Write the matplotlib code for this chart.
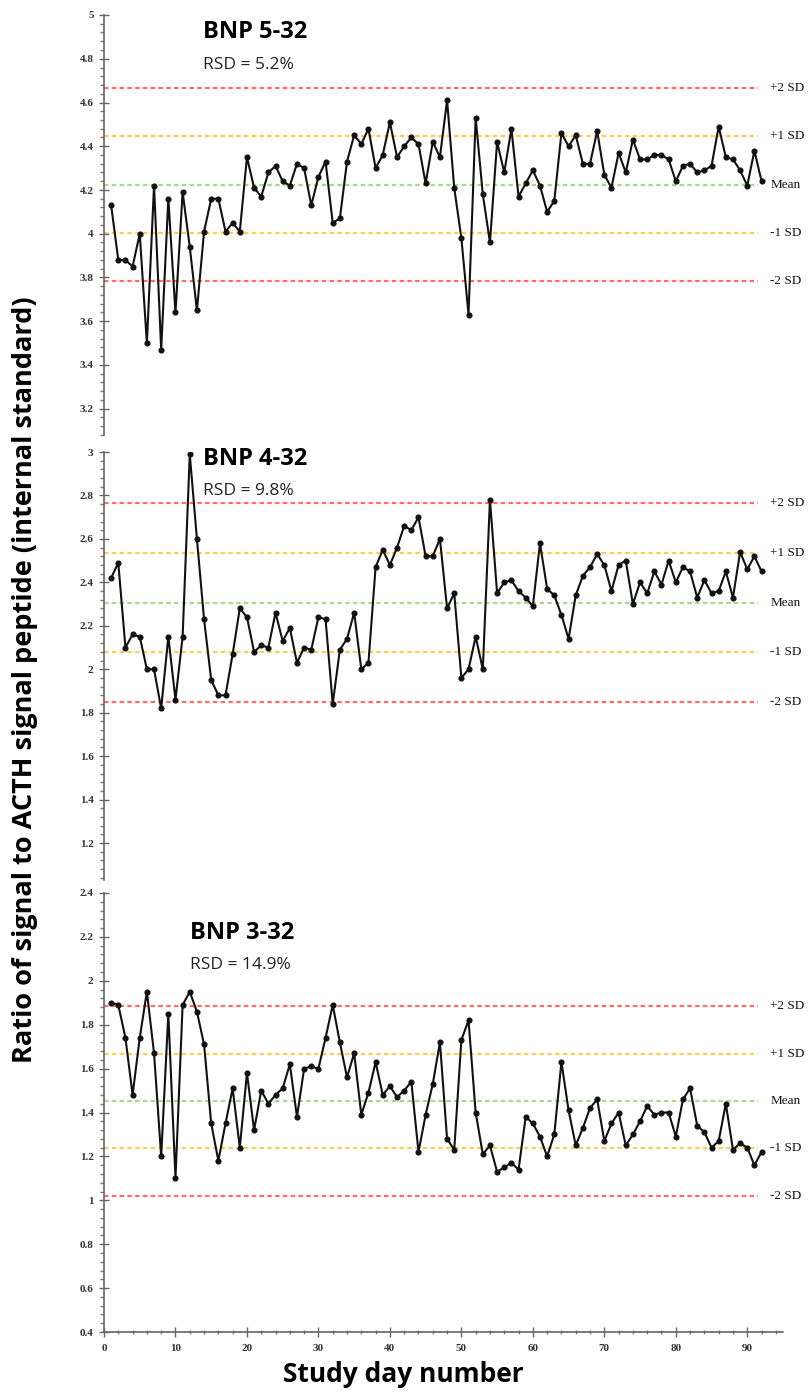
import matplotlib.pyplot as plt
from matplotlib.ticker import FixedLocator, MultipleLocator, FuncFormatter

# study days
days = list(range(1, 93))

# BNP 5-32 ratios
bnp5 = [4.13, 3.88, 3.88, 3.85, 4.00, 3.50, 4.22, 3.47, 4.16, 3.64,
        4.19, 3.94, 3.65, 4.01, 4.16, 4.16, 4.01, 4.05, 4.01, 4.35,
        4.21, 4.17, 4.28, 4.31, 4.24, 4.22, 4.32, 4.30, 4.13, 4.26,
        4.33, 4.05, 4.07, 4.33, 4.45, 4.41, 4.48, 4.30, 4.36, 4.51,
        4.35, 4.40, 4.44, 4.41, 4.23, 4.42, 4.35, 4.61, 4.21, 3.98,
        3.63, 4.53, 4.18, 3.96, 4.42, 4.28, 4.48, 4.17, 4.23, 4.29,
        4.22, 4.10, 4.15, 4.46, 4.40, 4.45, 4.32, 4.32, 4.47, 4.27,
        4.21, 4.37, 4.28, 4.43, 4.34, 4.34, 4.36, 4.36, 4.34, 4.24,
        4.31, 4.32, 4.28, 4.29, 4.31, 4.49, 4.35, 4.34, 4.29, 4.22,
        4.38, 4.24]

# BNP 4-32 ratios
bnp4 = [2.42, 2.49, 2.10, 2.16, 2.15, 2.00, 2.00, 1.82, 2.15, 1.86,
        2.15, 2.99, 2.60, 2.23, 1.95, 1.88, 1.88, 2.07, 2.28, 2.24,
        2.08, 2.11, 2.10, 2.26, 2.13, 2.19, 2.03, 2.10, 2.09, 2.24,
        2.23, 1.84, 2.09, 2.14, 2.26, 2.00, 2.03, 2.47, 2.55, 2.48,
        2.56, 2.66, 2.64, 2.70, 2.52, 2.52, 2.60, 2.28, 2.35, 1.96,
        2.00, 2.15, 2.00, 2.78, 2.35, 2.40, 2.41, 2.36, 2.33, 2.29,
        2.58, 2.37, 2.34, 2.25, 2.14, 2.34, 2.43, 2.47, 2.53, 2.48,
        2.36, 2.48, 2.50, 2.30, 2.40, 2.35, 2.45, 2.39, 2.50, 2.40,
        2.47, 2.45, 2.33, 2.41, 2.35, 2.36, 2.45, 2.33, 2.54, 2.46,
        2.52, 2.45]

# BNP 3-32 ratios
bnp3 = [1.90, 1.89, 1.74, 1.48, 1.74, 1.95, 1.67, 1.20, 1.85, 1.10,
        1.89, 1.95, 1.86, 1.71, 1.35, 1.18, 1.35, 1.51, 1.24, 1.58,
        1.32, 1.50, 1.44, 1.48, 1.51, 1.62, 1.38, 1.60, 1.61, 1.60,
        1.74, 1.89, 1.72, 1.56, 1.67, 1.39, 1.49, 1.63, 1.48, 1.52,
        1.47, 1.50, 1.54, 1.22, 1.39, 1.53, 1.72, 1.28, 1.23, 1.73,
        1.82, 1.40, 1.21, 1.25, 1.13, 1.15, 1.17, 1.14, 1.38, 1.35,
        1.29, 1.20, 1.30, 1.63, 1.41, 1.25, 1.33, 1.42, 1.46, 1.27,
        1.35, 1.40, 1.25, 1.30, 1.36, 1.43, 1.39, 1.40, 1.40, 1.29,
        1.46, 1.51, 1.34, 1.31, 1.24, 1.27, 1.44, 1.23, 1.26, 1.24,
        1.16, 1.22]

# control lines: +2SD, +1SD, Mean, -1SD, -2SD
limits5 = [4.665, 4.445, 4.225, 4.005, 3.785]
limits4 = [2.763, 2.534, 2.306, 2.078, 1.850]
limits3 = [1.885, 1.668, 1.452, 1.236, 1.020]
limit_names = ["+2 SD", "+1 SD", "Mean", "-1 SD", "-2 SD"]
limit_colors = ["#ff6b6b", "#ffcc55", "#a8d88a", "#ffcc55", "#ff6b6b"]

titles = ["BNP 5-32", "BNP 4-32", "BNP 3-32"]
rsd_text = ["RSD = 5.2%", "RSD = 9.8%", "RSD = 14.9%"]

ticks5 = [3.2, 3.4, 3.6, 3.8, 4.0, 4.2, 4.4, 4.6, 4.8, 5.0]
ticks4 = [1.2, 1.4, 1.6, 1.8, 2.0, 2.2, 2.4, 2.6, 2.8, 3.0]
ticks3 = [0.4, 0.6, 0.8, 1.0, 1.2, 1.4, 1.6, 1.8, 2.0, 2.2, 2.4]
xticks = [0, 10, 20, 30, 40, 50, 60, 70, 80, 90]

W, H = 812, 1392
fig = plt.figure(figsize=(W / 100, H / 100), dpi=100)

def px_axes(top, bottom):
    return [104 / W, 1 - bottom / H, (783 - 104) / W, (bottom - top) / H]

panels = [
    (bnp5, limits5, ticks5, (3.08, 5.0), px_axes(15, 435), (13.8, 4.92, 4.77)),
    (bnp4, limits4, ticks4, (1.03, 3.0), px_axes(452, 880), (13.8, 2.97, 2.82)),
    (bnp3, limits3, ticks3, (0.4, 2.4), px_axes(893, 1332), (12.0, 2.22, 2.07)),
]

tickfont = dict(family="Liberation Serif", size=8, weight="bold")

for i, (vals, lims, yt, ylim, pos, tpos) in enumerate(panels):
    ax = fig.add_axes(pos)
    ax.set_xlim(0, 95)
    ax.set_ylim(*ylim)

    # control lines
    for v, name, c in zip(lims, limit_names, limit_colors):
        ax.plot([0, 91.5], [v, v], color=c, lw=1.6, ls=(0, (2, 1.5)), zorder=1)
        ax.text(93.2, v, name, fontfamily="Liberation Serif", fontsize=9.5,
                va="center", ha="left", clip_on=False, color="#111111")

    ax.plot(days, vals, color="#111111", lw=1.5, marker="o", ms=3.4, zorder=3)

    ax.text(tpos[0], tpos[1], titles[i], fontfamily="Open Sans", fontweight="bold",
            fontsize=17, va="center", ha="left")
    ax.text(tpos[0], tpos[2], rsd_text[i], fontfamily="Open Sans",
            fontsize=12.5, va="center", ha="left", color="#222222")

    for s in ["top", "right"]:
        ax.spines[s].set_visible(False)
    ax.spines["left"].set_color("#666666")
    ax.spines["left"].set_linewidth(1.2)

    ax.yaxis.set_major_locator(FixedLocator(yt))
    ax.yaxis.set_minor_locator(MultipleLocator(0.04))
    ax.yaxis.set_major_formatter(FuncFormatter(lambda v, p: "%g" % round(v, 2)))
    ax.tick_params(axis="y", which="major", direction="inout", length=7,
                   width=1, color="#666666", pad=4)
    ax.tick_params(axis="y", which="minor", direction="out", length=3,
                   width=1, color="#777777")
    for lab in ax.get_yticklabels():
        lab.set_fontproperties(tickfont)
        lab.set_color("#333333")

    if i < 2:
        ax.spines["bottom"].set_visible(False)
        ax.set_xticks([])
    else:
        ax.spines["bottom"].set_color("#666666")
        ax.spines["bottom"].set_linewidth(1.2)
        ax.xaxis.set_major_locator(FixedLocator(xticks))
        ax.xaxis.set_minor_locator(MultipleLocator(2))
        ax.tick_params(axis="x", which="major", direction="inout", length=7,
                       width=1, color="#666666", pad=5)
        ax.tick_params(axis="x", which="minor", direction="inout", length=3,
                       width=1, color="#777777")
        for lab in ax.get_xticklabels():
            lab.set_fontproperties(tickfont)
            lab.set_color("#333333")
    ax.patch.set_alpha(0)

fig.text(25 / W, 1 - 680 / H, "Ratio of signal to ACTH signal peptide (internal standard)",
         rotation=90, ha="center", va="center", fontfamily="Open Sans",
         fontweight="bold", fontsize=19.5)
fig.text(403 / W, 1 - 1375 / H, "Study day number", ha="center", va="center",
         fontfamily="Open Sans", fontweight="bold", fontsize=19)

fig.savefig("out.png", dpi=100)
